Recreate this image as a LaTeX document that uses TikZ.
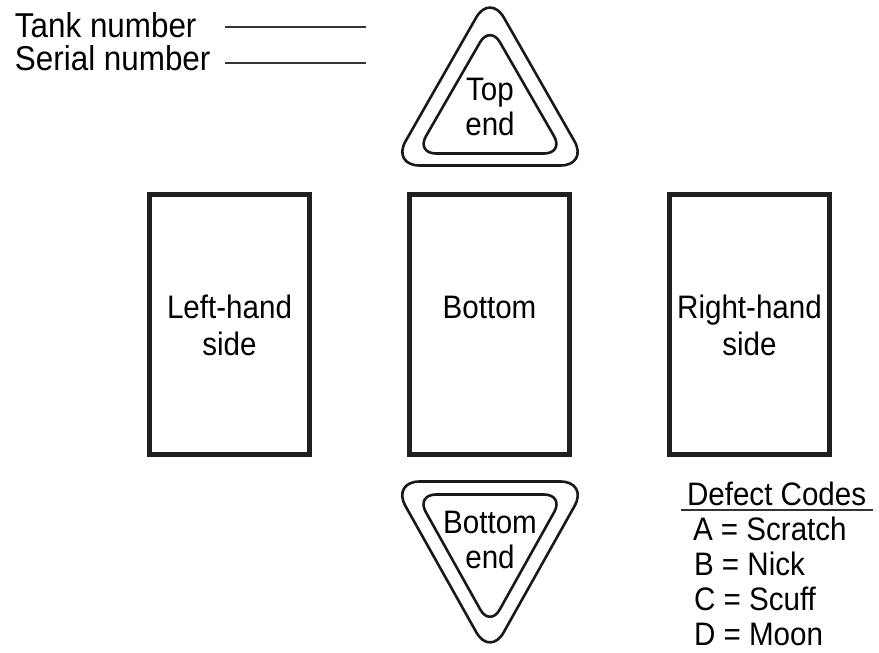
\documentclass[tikz,border=0pt]{standalone}
\usepackage{fontspec}
\setmainfont{Liberation Sans}[FakeStretch=0.91]
\begin{document}
\begin{tikzpicture}[x=1pt,y=-1pt,
  every node/.style={inner sep=0pt, outer sep=0pt},
  lbl/.style={font=\fontsize{32.5}{37}\selectfont, align=center, anchor=base},
  toplbl/.style={font=\fontsize{34.5}{33}\selectfont, anchor=base west},
  code/.style={font=\fontsize{32.5}{35}\selectfont, anchor=base west},
  panel/.style={draw=black!88, line width=5pt, minimum width=160pt, minimum height=260pt},
  tri/.style={draw=black!90, line width=2.6pt, line join=round},
  rule/.style={draw=black!80, line width=1.5pt}]
\useasboundingbox (0,0) rectangle (879,653);
% header labels
\node[toplbl] (tank) at (15,37) {Tank number};
\node[toplbl] (serial) at (15,70) {Serial number};
\coordinate (t1) at (225,27); \coordinate (t2) at (366,27);
\coordinate (s1) at (225,63); \coordinate (s2) at (366,63);
\draw[rule] (t1) -- (t2);
\draw[rule] (s1) -- (s2);
% top end
\draw[tri, rounded corners=28pt] (490,165.5) -- (588.3,165.5) -- (490,-6.7) -- (391.7,165.5) -- cycle;
\draw[tri, rounded corners=20pt] (490,153.5) -- (564,153.5) -- (490,25) -- (416,153.5) -- cycle;
\node[lbl, font=\fontsize{32.5}{35}\selectfont] (topend) at (490,135) {Top\\end};
% panels
\node[panel] (lhs) at (229.5,324.5) {};
\node[panel] (bot) at (489.5,324.5) {};
\node[panel] (rhs) at (749.5,324.5) {};
\node[lbl] (lhst) at (229.5,355) {Left-hand\\side};
\node[lbl] (bott) at (489.5,318) {Bottom};
\node[lbl] (rhst) at (749.5,355) {Right-hand\\side};
% bottom end
\draw[tri, rounded corners=28pt] (490,481.5) -- (588.3,481.5) -- (490,656.7) -- (391.7,481.5) -- cycle;
\draw[tri, rounded corners=20pt] (490,494.5) -- (564,494.5) -- (490,627) -- (416,494.5) -- cycle;
\node[lbl, font=\fontsize{32.5}{35}\selectfont] (botend) at (490,568) {Bottom\\end};
% defect codes
\node[code] (dc) at (687,505) {Defect Codes};
\coordinate (u1) at (681,510); \coordinate (u2) at (873,510);
\draw[rule] (u1) -- (u2);
\node[code] (ca) at (693,540) {A = Scratch};
\node[code] (cb) at (694,575) {B = Nick};
\node[code] (cc) at (694,610) {C = Scuff};
\node[code] (cd) at (694,645) {D = Moon};
\end{tikzpicture}
\end{document}
